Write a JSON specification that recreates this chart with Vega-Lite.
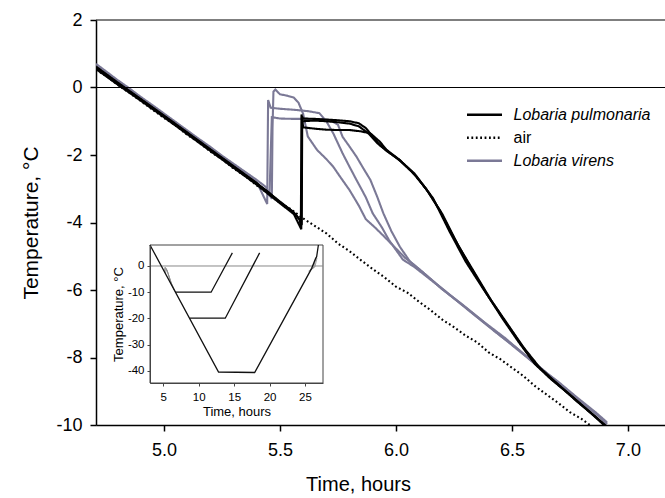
{
  "$schema": "https://vega.github.io/schema/vega-lite/v6.json",
  "autosize": "none",
  "width": 569,
  "height": 405,
  "padding": {"left": 96, "top": 20, "right": 0, "bottom": 73},
  "background": "white",
  "config": {
    "view": {"stroke": null},
    "font": "Liberation Sans",
    "axis": {"grid": false, "domainColor": "#000", "tickColor": "#000", "labelColor": "#000", "titleColor": "#000", "titleFontWeight": "normal", "labelExpr": "replace(datum.label, '\u2212', '-')"}
  },
  "datasets": {
    "main": [
      {"s":"V1","sp":"Lobaria virens","t":4.707,"v":0.70},{"s":"V1","sp":"Lobaria virens","t":4.75,"v":0.48},{"s":"V1","sp":"Lobaria virens","t":4.80,"v":0.22},{"s":"V1","sp":"Lobaria virens","t":4.85,"v":-0.02},{"s":"V1","sp":"Lobaria virens","t":4.90,"v":-0.28},{"s":"V1","sp":"Lobaria virens","t":4.95,"v":-0.52},{"s":"V1","sp":"Lobaria virens","t":5.00,"v":-0.77},{"s":"V1","sp":"Lobaria virens","t":5.05,"v":-1.02},{"s":"V1","sp":"Lobaria virens","t":5.10,"v":-1.27},{"s":"V1","sp":"Lobaria virens","t":5.15,"v":-1.52},{"s":"V1","sp":"Lobaria virens","t":5.20,"v":-1.76},{"s":"V1","sp":"Lobaria virens","t":5.25,"v":-2.02},{"s":"V1","sp":"Lobaria virens","t":5.30,"v":-2.26},{"s":"V1","sp":"Lobaria virens","t":5.35,"v":-2.50},{"s":"V1","sp":"Lobaria virens","t":5.40,"v":-2.74},{"s":"V1","sp":"Lobaria virens","t":5.44,"v":-2.95},{"s":"V1","sp":"Lobaria virens","t":5.465,"v":-3.3},{"s":"V1","sp":"Lobaria virens","t":5.468,"v":-1.2},{"s":"V1","sp":"Lobaria virens","t":5.472,"v":-0.12},{"s":"V1","sp":"Lobaria virens","t":5.48,"v":-0.06},{"s":"V1","sp":"Lobaria virens","t":5.50,"v":-0.2},{"s":"V1","sp":"Lobaria virens","t":5.53,"v":-0.24},{"s":"V1","sp":"Lobaria virens","t":5.56,"v":-0.3},{"s":"V1","sp":"Lobaria virens","t":5.58,"v":-0.45},{"s":"V1","sp":"Lobaria virens","t":5.60,"v":-0.78},{"s":"V1","sp":"Lobaria virens","t":5.62,"v":-1.45},{"s":"V1","sp":"Lobaria virens","t":5.66,"v":-1.85},{"s":"V1","sp":"Lobaria virens","t":5.70,"v":-2.12},{"s":"V1","sp":"Lobaria virens","t":5.73,"v":-2.35},{"s":"V1","sp":"Lobaria virens","t":5.76,"v":-2.65},{"s":"V1","sp":"Lobaria virens","t":5.80,"v":-3.04},{"s":"V1","sp":"Lobaria virens","t":5.84,"v":-3.5},{"s":"V1","sp":"Lobaria virens","t":5.87,"v":-3.9},{"s":"V1","sp":"Lobaria virens","t":5.91,"v":-4.15},{"s":"V1","sp":"Lobaria virens","t":5.95,"v":-4.42},{"s":"V1","sp":"Lobaria virens","t":5.99,"v":-4.7},{"s":"V1","sp":"Lobaria virens","t":6.04,"v":-5.05},{"s":"V1","sp":"Lobaria virens","t":6.10,"v":-5.38},{"s":"V1","sp":"Lobaria virens","t":6.18,"v":-5.85},{"s":"V1","sp":"Lobaria virens","t":6.27,"v":-6.35},{"s":"V1","sp":"Lobaria virens","t":6.36,"v":-6.85},{"s":"V1","sp":"Lobaria virens","t":6.45,"v":-7.35},{"s":"V1","sp":"Lobaria virens","t":6.53,"v":-7.8},{"s":"V1","sp":"Lobaria virens","t":6.62,"v":-8.3},{"s":"V1","sp":"Lobaria virens","t":6.70,"v":-8.78},{"s":"V1","sp":"Lobaria virens","t":6.78,"v":-9.22},{"s":"V1","sp":"Lobaria virens","t":6.85,"v":-9.6},{"s":"V1","sp":"Lobaria virens","t":6.91,"v":-9.95},

      {"s":"V2","sp":"Lobaria virens","t":4.707,"v":0.64},{"s":"V2","sp":"Lobaria virens","t":4.80,"v":0.17},{"s":"V2","sp":"Lobaria virens","t":4.90,"v":-0.33},{"s":"V2","sp":"Lobaria virens","t":5.00,"v":-0.82},{"s":"V2","sp":"Lobaria virens","t":5.10,"v":-1.31},{"s":"V2","sp":"Lobaria virens","t":5.20,"v":-1.81},{"s":"V2","sp":"Lobaria virens","t":5.30,"v":-2.31},{"s":"V2","sp":"Lobaria virens","t":5.40,"v":-2.8},{"s":"V2","sp":"Lobaria virens","t":5.445,"v":-3.45},{"s":"V2","sp":"Lobaria virens","t":5.449,"v":-0.37},{"s":"V2","sp":"Lobaria virens","t":5.46,"v":-0.6},{"s":"V2","sp":"Lobaria virens","t":5.50,"v":-0.63},{"s":"V2","sp":"Lobaria virens","t":5.56,"v":-0.66},{"s":"V2","sp":"Lobaria virens","t":5.62,"v":-0.7},{"s":"V2","sp":"Lobaria virens","t":5.67,"v":-0.76},{"s":"V2","sp":"Lobaria virens","t":5.70,"v":-1.0},{"s":"V2","sp":"Lobaria virens","t":5.73,"v":-1.36},{"s":"V2","sp":"Lobaria virens","t":5.77,"v":-1.95},{"s":"V2","sp":"Lobaria virens","t":5.80,"v":-2.35},{"s":"V2","sp":"Lobaria virens","t":5.83,"v":-2.74},{"s":"V2","sp":"Lobaria virens","t":5.87,"v":-3.25},{"s":"V2","sp":"Lobaria virens","t":5.90,"v":-3.73},{"s":"V2","sp":"Lobaria virens","t":5.94,"v":-4.15},{"s":"V2","sp":"Lobaria virens","t":5.97,"v":-4.52},{"s":"V2","sp":"Lobaria virens","t":6.03,"v":-5.1},{"s":"V2","sp":"Lobaria virens","t":6.08,"v":-5.32},{"s":"V2","sp":"Lobaria virens","t":6.16,"v":-5.75},{"s":"V2","sp":"Lobaria virens","t":6.25,"v":-6.25},{"s":"V2","sp":"Lobaria virens","t":6.34,"v":-6.75},{"s":"V2","sp":"Lobaria virens","t":6.43,"v":-7.25},{"s":"V2","sp":"Lobaria virens","t":6.52,"v":-7.72},{"s":"V2","sp":"Lobaria virens","t":6.61,"v":-8.25},{"s":"V2","sp":"Lobaria virens","t":6.70,"v":-8.72},{"s":"V2","sp":"Lobaria virens","t":6.78,"v":-9.18},{"s":"V2","sp":"Lobaria virens","t":6.86,"v":-9.62},{"s":"V2","sp":"Lobaria virens","t":6.91,"v":-9.92},

      {"s":"V3","sp":"Lobaria virens","t":4.707,"v":0.60},{"s":"V3","sp":"Lobaria virens","t":4.80,"v":0.14},{"s":"V3","sp":"Lobaria virens","t":4.90,"v":-0.36},{"s":"V3","sp":"Lobaria virens","t":5.00,"v":-0.86},{"s":"V3","sp":"Lobaria virens","t":5.10,"v":-1.36},{"s":"V3","sp":"Lobaria virens","t":5.20,"v":-1.85},{"s":"V3","sp":"Lobaria virens","t":5.30,"v":-2.35},{"s":"V3","sp":"Lobaria virens","t":5.40,"v":-2.84},{"s":"V3","sp":"Lobaria virens","t":5.455,"v":-3.2},{"s":"V3","sp":"Lobaria virens","t":5.46,"v":-2.0},{"s":"V3","sp":"Lobaria virens","t":5.465,"v":-0.88},{"s":"V3","sp":"Lobaria virens","t":5.50,"v":-0.92},{"s":"V3","sp":"Lobaria virens","t":5.56,"v":-0.93},{"s":"V3","sp":"Lobaria virens","t":5.62,"v":-0.93},{"s":"V3","sp":"Lobaria virens","t":5.68,"v":-0.94},{"s":"V3","sp":"Lobaria virens","t":5.72,"v":-0.98},{"s":"V3","sp":"Lobaria virens","t":5.75,"v":-1.1},{"s":"V3","sp":"Lobaria virens","t":5.77,"v":-1.46},{"s":"V3","sp":"Lobaria virens","t":5.80,"v":-1.75},{"s":"V3","sp":"Lobaria virens","t":5.83,"v":-2.05},{"s":"V3","sp":"Lobaria virens","t":5.86,"v":-2.4},{"s":"V3","sp":"Lobaria virens","t":5.89,"v":-2.74},{"s":"V3","sp":"Lobaria virens","t":5.92,"v":-3.25},{"s":"V3","sp":"Lobaria virens","t":5.946,"v":-3.73},{"s":"V3","sp":"Lobaria virens","t":5.98,"v":-4.25},{"s":"V3","sp":"Lobaria virens","t":6.017,"v":-4.72},{"s":"V3","sp":"Lobaria virens","t":6.06,"v":-5.15},{"s":"V3","sp":"Lobaria virens","t":6.12,"v":-5.5},{"s":"V3","sp":"Lobaria virens","t":6.20,"v":-5.98},{"s":"V3","sp":"Lobaria virens","t":6.29,"v":-6.45},{"s":"V3","sp":"Lobaria virens","t":6.38,"v":-6.95},{"s":"V3","sp":"Lobaria virens","t":6.47,"v":-7.42},{"s":"V3","sp":"Lobaria virens","t":6.56,"v":-7.95},{"s":"V3","sp":"Lobaria virens","t":6.64,"v":-8.4},{"s":"V3","sp":"Lobaria virens","t":6.72,"v":-8.88},{"s":"V3","sp":"Lobaria virens","t":6.80,"v":-9.32},{"s":"V3","sp":"Lobaria virens","t":6.87,"v":-9.7},{"s":"V3","sp":"Lobaria virens","t":6.91,"v":-9.98},

      {"s":"A","sp":"air","t":4.707,"v":0.52},{"s":"A","sp":"air","t":4.75,"v":0.35},{"s":"A","sp":"air","t":4.80,"v":0.08},{"s":"A","sp":"air","t":4.85,"v":-0.15},{"s":"A","sp":"air","t":4.90,"v":-0.40},{"s":"A","sp":"air","t":4.95,"v":-0.65},{"s":"A","sp":"air","t":5.00,"v":-0.90},{"s":"A","sp":"air","t":5.05,"v":-1.12},{"s":"A","sp":"air","t":5.10,"v":-1.40},{"s":"A","sp":"air","t":5.15,"v":-1.62},{"s":"A","sp":"air","t":5.20,"v":-1.90},{"s":"A","sp":"air","t":5.25,"v":-2.12},{"s":"A","sp":"air","t":5.30,"v":-2.40},{"s":"A","sp":"air","t":5.35,"v":-2.62},{"s":"A","sp":"air","t":5.40,"v":-2.90},{"s":"A","sp":"air","t":5.45,"v":-3.15},{"s":"A","sp":"air","t":5.50,"v":-3.42},{"s":"A","sp":"air","t":5.55,"v":-3.62},{"s":"A","sp":"air","t":5.60,"v":-3.88},{"s":"A","sp":"air","t":5.65,"v":-4.10},{"s":"A","sp":"air","t":5.70,"v":-4.32},{"s":"A","sp":"air","t":5.75,"v":-4.62},{"s":"A","sp":"air","t":5.80,"v":-4.85},{"s":"A","sp":"air","t":5.85,"v":-5.12},{"s":"A","sp":"air","t":5.90,"v":-5.38},{"s":"A","sp":"air","t":5.95,"v":-5.62},{"s":"A","sp":"air","t":6.00,"v":-5.90},{"s":"A","sp":"air","t":6.05,"v":-6.08},{"s":"A","sp":"air","t":6.10,"v":-6.35},{"s":"A","sp":"air","t":6.15,"v":-6.60},{"s":"A","sp":"air","t":6.20,"v":-6.88},{"s":"A","sp":"air","t":6.25,"v":-7.10},{"s":"A","sp":"air","t":6.30,"v":-7.35},{"s":"A","sp":"air","t":6.35,"v":-7.55},{"s":"A","sp":"air","t":6.40,"v":-7.85},{"s":"A","sp":"air","t":6.45,"v":-8.05},{"s":"A","sp":"air","t":6.50,"v":-8.30},{"s":"A","sp":"air","t":6.55,"v":-8.55},{"s":"A","sp":"air","t":6.60,"v":-8.85},{"s":"A","sp":"air","t":6.65,"v":-9.10},{"s":"A","sp":"air","t":6.70,"v":-9.35},{"s":"A","sp":"air","t":6.75,"v":-9.62},{"s":"A","sp":"air","t":6.80,"v":-9.82},{"s":"A","sp":"air","t":6.84,"v":-10.02},

      {"s":"P1","sp":"Lobaria pulmonaria","t":4.707,"v":0.58},{"s":"P1","sp":"Lobaria pulmonaria","t":4.80,"v":0.12},{"s":"P1","sp":"Lobaria pulmonaria","t":4.90,"v":-0.36},{"s":"P1","sp":"Lobaria pulmonaria","t":5.00,"v":-0.85},{"s":"P1","sp":"Lobaria pulmonaria","t":5.10,"v":-1.35},{"s":"P1","sp":"Lobaria pulmonaria","t":5.20,"v":-1.85},{"s":"P1","sp":"Lobaria pulmonaria","t":5.30,"v":-2.35},{"s":"P1","sp":"Lobaria pulmonaria","t":5.40,"v":-2.85},{"s":"P1","sp":"Lobaria pulmonaria","t":5.45,"v":-3.1},{"s":"P1","sp":"Lobaria pulmonaria","t":5.50,"v":-3.4},{"s":"P1","sp":"Lobaria pulmonaria","t":5.55,"v":-3.65},{"s":"P1","sp":"Lobaria pulmonaria","t":5.585,"v":-3.9},{"s":"P1","sp":"Lobaria pulmonaria","t":5.59,"v":-4.15},{"s":"P1","sp":"Lobaria pulmonaria","t":5.593,"v":-0.8},{"s":"P1","sp":"Lobaria pulmonaria","t":5.60,"v":-1.18},{"s":"P1","sp":"Lobaria pulmonaria","t":5.65,"v":-1.22},{"s":"P1","sp":"Lobaria pulmonaria","t":5.70,"v":-1.25},{"s":"P1","sp":"Lobaria pulmonaria","t":5.75,"v":-1.26},{"s":"P1","sp":"Lobaria pulmonaria","t":5.80,"v":-1.26},{"s":"P1","sp":"Lobaria pulmonaria","t":5.85,"v":-1.3},{"s":"P1","sp":"Lobaria pulmonaria","t":5.89,"v":-1.36},{"s":"P1","sp":"Lobaria pulmonaria","t":5.93,"v":-1.6},{"s":"P1","sp":"Lobaria pulmonaria","t":5.96,"v":-1.85},{"s":"P1","sp":"Lobaria pulmonaria","t":6.017,"v":-2.15},{"s":"P1","sp":"Lobaria pulmonaria","t":6.089,"v":-2.64},{"s":"P1","sp":"Lobaria pulmonaria","t":6.16,"v":-3.28},{"s":"P1","sp":"Lobaria pulmonaria","t":6.23,"v":-4.25},{"s":"P1","sp":"Lobaria pulmonaria","t":6.30,"v":-5.15},{"s":"P1","sp":"Lobaria pulmonaria","t":6.375,"v":-5.95},{"s":"P1","sp":"Lobaria pulmonaria","t":6.45,"v":-6.72},{"s":"P1","sp":"Lobaria pulmonaria","t":6.52,"v":-7.42},{"s":"P1","sp":"Lobaria pulmonaria","t":6.59,"v":-8.1},{"s":"P1","sp":"Lobaria pulmonaria","t":6.66,"v":-8.58},{"s":"P1","sp":"Lobaria pulmonaria","t":6.75,"v":-9.1},{"s":"P1","sp":"Lobaria pulmonaria","t":6.82,"v":-9.52},{"s":"P1","sp":"Lobaria pulmonaria","t":6.90,"v":-10.02},

      {"s":"P2","sp":"Lobaria pulmonaria","t":4.707,"v":0.55},{"s":"P2","sp":"Lobaria pulmonaria","t":4.80,"v":0.09},{"s":"P2","sp":"Lobaria pulmonaria","t":4.90,"v":-0.39},{"s":"P2","sp":"Lobaria pulmonaria","t":5.00,"v":-0.88},{"s":"P2","sp":"Lobaria pulmonaria","t":5.10,"v":-1.38},{"s":"P2","sp":"Lobaria pulmonaria","t":5.20,"v":-1.88},{"s":"P2","sp":"Lobaria pulmonaria","t":5.30,"v":-2.38},{"s":"P2","sp":"Lobaria pulmonaria","t":5.40,"v":-2.88},{"s":"P2","sp":"Lobaria pulmonaria","t":5.50,"v":-3.43},{"s":"P2","sp":"Lobaria pulmonaria","t":5.56,"v":-3.75},{"s":"P2","sp":"Lobaria pulmonaria","t":5.592,"v":-4.2},{"s":"P2","sp":"Lobaria pulmonaria","t":5.595,"v":-0.85},{"s":"P2","sp":"Lobaria pulmonaria","t":5.60,"v":-0.92},{"s":"P2","sp":"Lobaria pulmonaria","t":5.65,"v":-0.93},{"s":"P2","sp":"Lobaria pulmonaria","t":5.70,"v":-0.95},{"s":"P2","sp":"Lobaria pulmonaria","t":5.75,"v":-0.97},{"s":"P2","sp":"Lobaria pulmonaria","t":5.80,"v":-1.0},{"s":"P2","sp":"Lobaria pulmonaria","t":5.84,"v":-1.06},{"s":"P2","sp":"Lobaria pulmonaria","t":5.87,"v":-1.2},{"s":"P2","sp":"Lobaria pulmonaria","t":5.90,"v":-1.45},{"s":"P2","sp":"Lobaria pulmonaria","t":5.93,"v":-1.7},{"s":"P2","sp":"Lobaria pulmonaria","t":5.97,"v":-1.92},{"s":"P2","sp":"Lobaria pulmonaria","t":6.02,"v":-2.18},{"s":"P2","sp":"Lobaria pulmonaria","t":6.08,"v":-2.55},{"s":"P2","sp":"Lobaria pulmonaria","t":6.14,"v":-3.1},{"s":"P2","sp":"Lobaria pulmonaria","t":6.20,"v":-3.75},{"s":"P2","sp":"Lobaria pulmonaria","t":6.27,"v":-4.7},{"s":"P2","sp":"Lobaria pulmonaria","t":6.34,"v":-5.5},{"s":"P2","sp":"Lobaria pulmonaria","t":6.41,"v":-6.3},{"s":"P2","sp":"Lobaria pulmonaria","t":6.48,"v":-7.0},{"s":"P2","sp":"Lobaria pulmonaria","t":6.55,"v":-7.7},{"s":"P2","sp":"Lobaria pulmonaria","t":6.62,"v":-8.3},{"s":"P2","sp":"Lobaria pulmonaria","t":6.70,"v":-8.8},{"s":"P2","sp":"Lobaria pulmonaria","t":6.78,"v":-9.3},{"s":"P2","sp":"Lobaria pulmonaria","t":6.85,"v":-9.7},{"s":"P2","sp":"Lobaria pulmonaria","t":6.91,"v":-10.05},

      {"s":"P3","sp":"Lobaria pulmonaria","t":4.707,"v":0.62},{"s":"P3","sp":"Lobaria pulmonaria","t":4.80,"v":0.15},{"s":"P3","sp":"Lobaria pulmonaria","t":4.90,"v":-0.34},{"s":"P3","sp":"Lobaria pulmonaria","t":5.00,"v":-0.83},{"s":"P3","sp":"Lobaria pulmonaria","t":5.10,"v":-1.33},{"s":"P3","sp":"Lobaria pulmonaria","t":5.20,"v":-1.83},{"s":"P3","sp":"Lobaria pulmonaria","t":5.30,"v":-2.33},{"s":"P3","sp":"Lobaria pulmonaria","t":5.40,"v":-2.83},{"s":"P3","sp":"Lobaria pulmonaria","t":5.50,"v":-3.38},{"s":"P3","sp":"Lobaria pulmonaria","t":5.56,"v":-3.7},{"s":"P3","sp":"Lobaria pulmonaria","t":5.594,"v":-4.0},{"s":"P3","sp":"Lobaria pulmonaria","t":5.596,"v":-1.0},{"s":"P3","sp":"Lobaria pulmonaria","t":5.65,"v":-0.98},{"s":"P3","sp":"Lobaria pulmonaria","t":5.70,"v":-1.0},{"s":"P3","sp":"Lobaria pulmonaria","t":5.75,"v":-1.03},{"s":"P3","sp":"Lobaria pulmonaria","t":5.80,"v":-1.07},{"s":"P3","sp":"Lobaria pulmonaria","t":5.84,"v":-1.15},{"s":"P3","sp":"Lobaria pulmonaria","t":5.88,"v":-1.35},{"s":"P3","sp":"Lobaria pulmonaria","t":5.92,"v":-1.65},{"s":"P3","sp":"Lobaria pulmonaria","t":5.96,"v":-1.88},{"s":"P3","sp":"Lobaria pulmonaria","t":6.01,"v":-2.12},{"s":"P3","sp":"Lobaria pulmonaria","t":6.07,"v":-2.5},{"s":"P3","sp":"Lobaria pulmonaria","t":6.13,"v":-3.0},{"s":"P3","sp":"Lobaria pulmonaria","t":6.19,"v":-3.65},{"s":"P3","sp":"Lobaria pulmonaria","t":6.25,"v":-4.45},{"s":"P3","sp":"Lobaria pulmonaria","t":6.32,"v":-5.3},{"s":"P3","sp":"Lobaria pulmonaria","t":6.39,"v":-6.1},{"s":"P3","sp":"Lobaria pulmonaria","t":6.46,"v":-6.85},{"s":"P3","sp":"Lobaria pulmonaria","t":6.53,"v":-7.55},{"s":"P3","sp":"Lobaria pulmonaria","t":6.60,"v":-8.2},{"s":"P3","sp":"Lobaria pulmonaria","t":6.67,"v":-8.65},{"s":"P3","sp":"Lobaria pulmonaria","t":6.74,"v":-9.05},{"s":"P3","sp":"Lobaria pulmonaria","t":6.80,"v":-9.4},{"s":"P3","sp":"Lobaria pulmonaria","t":6.86,"v":-9.75},{"s":"P3","sp":"Lobaria pulmonaria","t":6.90,"v":-10.0}
    ],
    "inset": [
      {"s":"I40","k":"black","t":3.12,"v":8},{"s":"I40","k":"black","t":12.8,"v":-40.4},{"s":"I40","k":"black","t":17.9,"v":-40.6},{"s":"I40","k":"black","t":25.95,"v":-0.9},{"s":"I40","k":"black","t":26.5,"v":2.8},{"s":"I40","k":"black","t":26.65,"v":3.5},{"s":"I40","k":"black","t":26.9,"v":8},
      {"s":"I20","k":"black","t":8.75,"v":-19.9},{"s":"I20","k":"black","t":13.75,"v":-19.9},{"s":"I20","k":"black","t":18.6,"v":5},
      {"s":"I10","k":"black","t":6.65,"v":-10},{"s":"I10","k":"black","t":11.75,"v":-10},{"s":"I10","k":"black","t":14.75,"v":5},
      {"s":"G1","k":"gray","t":5.1,"v":-1.9},{"s":"G1","k":"gray","t":5.25,"v":-0.4},{"s":"G1","k":"gray","t":5.5,"v":-1.5},{"s":"G1","k":"gray","t":6.0,"v":-5.8},{"s":"G1","k":"gray","t":6.5,"v":-8.9},
      {"s":"G2","k":"gray","t":5.2,"v":-2.4},{"s":"G2","k":"gray","t":5.35,"v":-0.8},{"s":"G2","k":"gray","t":5.6,"v":-2.2},{"s":"G2","k":"gray","t":6.1,"v":-6.5},{"s":"G2","k":"gray","t":6.6,"v":-9.4},
      {"s":"G3","k":"gray","t":5.3,"v":-2.9},{"s":"G3","k":"gray","t":5.45,"v":-1.2},{"s":"G3","k":"gray","t":5.7,"v":-3.0},{"s":"G3","k":"gray","t":6.2,"v":-7.0},{"s":"G3","k":"gray","t":6.7,"v":-9.9},
      {"s":"T1","k":"gray","t":25.5,"v":-2.0},{"s":"T1","k":"gray","t":26.2,"v":-0.8},{"s":"T1","k":"gray","t":26.6,"v":3.5},
      {"s":"T2","k":"gray","t":25.7,"v":-1.4},{"s":"T2","k":"gray","t":26.4,"v":-0.4},{"s":"T2","k":"gray","t":26.7,"v":3.0}
    ]
  },
  "layer": [
    {
      "layer": [
        {
          "data": {"name": "main"},
          "mark": {"type": "line", "clip": true, "strokeWidth": 2.1},
          "encoding": {
            "x": {"field": "t", "type": "quantitative", "scale": {"domain": [4.707, 7.16], "nice": false, "zero": false},
              "axis": {"title": "Time, hours", "values": [5, 5.5, 6, 6.5, 7], "format": ".1f", "tickSize": 6, "tickWidth": 1.5, "domainWidth": 1.5, "labelFontSize": 18, "labelPadding": 10, "titleFontSize": 20, "titlePadding": 15, "titleX": 262}},
            "y": {"field": "v", "type": "quantitative", "scale": {"domain": [-10, 2], "nice": false, "zero": false},
              "axis": {"title": "Temperature, °C", "values": [-10, -8, -6, -4, -2, 0, 2], "tickSize": 6, "tickWidth": 1.5, "domainWidth": 1.5, "labelFontSize": 18, "labelPadding": 8, "titleFontSize": 21, "titlePadding": 14}},
            "color": {"field": "sp", "type": "nominal",
              "scale": {"domain": ["Lobaria pulmonaria", "air", "Lobaria virens"], "range": ["#000000", "#000000", "#7b7996"]},
              "legend": {"title": null, "orient": "none", "legendX": 369.5, "legendY": 84.5, "padding": 0, "symbolType": "stroke", "symbolSize": 1225, "symbolStrokeWidth": 2.5, "clipHeight": 20.5, "labelFontSize": 16, "labelOffset": 10, "labelColor": "#000", "labelFontStyle": {"expr": "datum.label == 'air' ? 'normal' : 'italic'"}}},
            "strokeDash": {"field": "sp", "type": "nominal",
              "scale": {"domain": ["Lobaria pulmonaria", "air", "Lobaria virens"], "range": [[1, 0], [1.8, 2.6], [1, 0]]},
              "legend": {"title": null, "orient": "none", "legendX": 369.5, "legendY": 84.5, "padding": 0, "symbolType": "stroke", "symbolSize": 1225, "symbolStrokeWidth": 2.5, "clipHeight": 20.5, "labelFontSize": 16, "labelOffset": 10, "labelColor": "#000", "labelFontStyle": {"expr": "datum.label == 'air' ? 'normal' : 'italic'"}}},
            "detail": {"field": "s"}
          }
        },
        {
          "data": {"values": [{"v": 2}, {"v": 0}]},
          "mark": {"type": "rule", "color": "#000", "strokeWidth": 1.1},
          "encoding": {"y": {"field": "v", "type": "quantitative", "scale": {"domain": [-10, 2], "nice": false, "zero": false},
              "axis": {"title": "Temperature, °C", "values": [-10, -8, -6, -4, -2, 0, 2], "tickSize": 6, "tickWidth": 1.5, "domainWidth": 1.5, "labelFontSize": 18, "labelPadding": 8, "titleFontSize": 21, "titlePadding": 14}}}
        }
      ]
    },
    {
      "layer": [
        {
          "data": {"values": [{"t": 3.12, "t2": 27.55, "v": -44.6, "v2": 8}]},
          "mark": {"type": "rect", "fill": "white", "stroke": "#444", "strokeWidth": 1},
          "encoding": {
            "x": {"field": "t", "type": "quantitative", "scale": {"domain": [3.12, 27.55], "range": [54, 227], "nice": false, "zero": false},
              "axis": {"orient": "bottom", "offset": -42, "values": [5, 10, 15, 20, 25], "tickSize": 3, "domainColor": "#444", "tickColor": "#444", "labelFontSize": 11.5, "labelPadding": 5, "title": "Time, hours", "titleFontSize": 13, "titlePadding": 3, "zindex": 1}},
            "x2": {"field": "t2"},
            "y": {"field": "v", "type": "quantitative", "scale": {"domain": [-44.6, 8], "range": [363, 225], "nice": false, "zero": false},
              "axis": {"orient": "left", "offset": -54, "values": [0, -10, -20, -30, -40], "tickSize": 3, "domainColor": "#444", "tickColor": "#444", "labelFontSize": 11.5, "labelPadding": 3, "title": "Temperature, °C", "titleFontSize": 13, "titlePadding": 2, "zindex": 1}},
            "y2": {"field": "v2"}
          }
        },
        {
          "data": {"values": [{"t": 3.12, "t2": 27.55, "v": 0}]},
          "mark": {"type": "rule", "color": "#888", "strokeWidth": 1},
          "encoding": {
            "x": {"field": "t", "type": "quantitative", "scale": {"domain": [3.12, 27.55], "range": [54, 227], "nice": false, "zero": false},
              "axis": {"orient": "bottom", "offset": -42, "values": [5, 10, 15, 20, 25], "tickSize": 3, "domainColor": "#444", "tickColor": "#444", "labelFontSize": 11.5, "labelPadding": 5, "title": "Time, hours", "titleFontSize": 13, "titlePadding": 3, "zindex": 1}},
            "x2": {"field": "t2"},
            "y": {"field": "v", "type": "quantitative", "scale": {"domain": [-44.6, 8], "range": [363, 225], "nice": false, "zero": false},
              "axis": {"orient": "left", "offset": -54, "values": [0, -10, -20, -30, -40], "tickSize": 3, "domainColor": "#444", "tickColor": "#444", "labelFontSize": 11.5, "labelPadding": 3, "title": "Temperature, °C", "titleFontSize": 13, "titlePadding": 2, "zindex": 1}}
          }
        },
        {
          "data": {"name": "inset"},
          "transform": [{"filter": "datum.k == 'gray'"}],
          "mark": {"type": "line", "color": "#8a8a8a", "strokeWidth": 0.8},
          "encoding": {
            "x": {"field": "t", "type": "quantitative", "scale": {"domain": [3.12, 27.55], "range": [54, 227], "nice": false, "zero": false},
              "axis": {"orient": "bottom", "offset": -42, "values": [5, 10, 15, 20, 25], "tickSize": 3, "domainColor": "#444", "tickColor": "#444", "labelFontSize": 11.5, "labelPadding": 5, "title": "Time, hours", "titleFontSize": 13, "titlePadding": 3, "zindex": 1}},
            "y": {"field": "v", "type": "quantitative", "scale": {"domain": [-44.6, 8], "range": [363, 225], "nice": false, "zero": false},
              "axis": {"orient": "left", "offset": -54, "values": [0, -10, -20, -30, -40], "tickSize": 3, "domainColor": "#444", "tickColor": "#444", "labelFontSize": 11.5, "labelPadding": 3, "title": "Temperature, °C", "titleFontSize": 13, "titlePadding": 2, "zindex": 1}},
            "detail": {"field": "s"}
          }
        },
        {
          "data": {"name": "inset"},
          "transform": [{"filter": "datum.k == 'black'"}],
          "mark": {"type": "line", "color": "#111", "strokeWidth": 1.3},
          "encoding": {
            "x": {"field": "t", "type": "quantitative", "scale": {"domain": [3.12, 27.55], "range": [54, 227], "nice": false, "zero": false},
              "axis": {"orient": "bottom", "offset": -42, "values": [5, 10, 15, 20, 25], "tickSize": 3, "domainColor": "#444", "tickColor": "#444", "labelFontSize": 11.5, "labelPadding": 5, "title": "Time, hours", "titleFontSize": 13, "titlePadding": 3, "zindex": 1}},
            "y": {"field": "v", "type": "quantitative", "scale": {"domain": [-44.6, 8], "range": [363, 225], "nice": false, "zero": false},
              "axis": {"orient": "left", "offset": -54, "values": [0, -10, -20, -30, -40], "tickSize": 3, "domainColor": "#444", "tickColor": "#444", "labelFontSize": 11.5, "labelPadding": 3, "title": "Temperature, °C", "titleFontSize": 13, "titlePadding": 2, "zindex": 1}},
            "detail": {"field": "s"}
          }
        }
      ]
    }
  ],
  "resolve": {"scale": {"x": "independent", "y": "independent"}}
}
